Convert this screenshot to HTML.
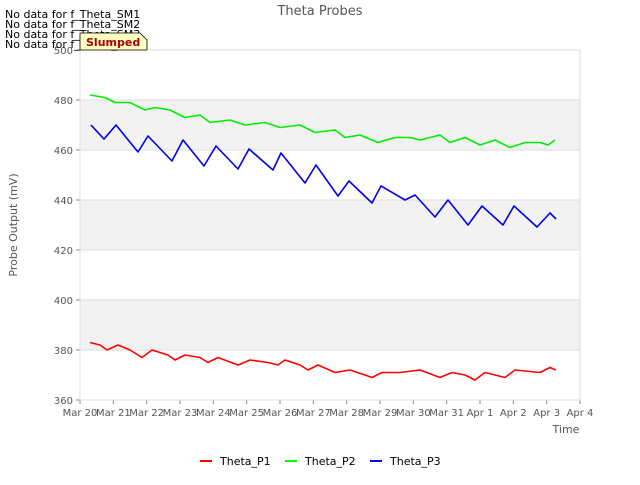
<!DOCTYPE html>
<html><head><meta charset="utf-8"><style>
body{margin:0;background:#fff;font-family:"Liberation Sans","DejaVu Sans",sans-serif}
svg text{font-family:"DejaVu Sans","Liberation Sans",sans-serif}
</style></head><body>
<svg id="chart" width="640" height="480" viewBox="0 0 640 480" xmlns="http://www.w3.org/2000/svg">
<rect width="640" height="480" fill="#fff"/>
<g id="bands"></g>
<g id="grid"></g>
<g id="axes"></g>
<g id="series"></g>
<text x="320" y="15" text-anchor="middle" font-size="13" fill="#555">Theta Probes</text>
<text transform="translate(17,225) rotate(-90)" text-anchor="middle" font-size="11" fill="#555">Probe Output (mV)</text>
<text x="566" y="433" text-anchor="middle" font-size="11" fill="#555">Time</text>
<g font-size="11" fill="#000">
<text x="5" y="18">No data for f_Theta_SM1</text>
<text x="5" y="28">No data for f_Theta_SM2</text>
<text x="5" y="38">No data for f_Theta_SM3</text>
<text x="5" y="48">No data for f_Theta_SM4</text>
</g>
<g>
<path d="M80,33 L140,33 L147,40 L147,50 L80,50 Z" fill="#ffffc0" stroke="#000" stroke-width="0.8"/>
<text x="86" y="46" font-size="11" font-weight="bold" fill="#a00">Slumped</text>
</g>
<g font-size="11" fill="#000">
<line x1="200" y1="461" x2="212" y2="461" stroke="#f00" stroke-width="2"/><text x="220" y="465">Theta_P1</text>
<line x1="285" y1="461" x2="297" y2="461" stroke="#0f0" stroke-width="2"/><text x="305" y="465">Theta_P2</text>
<line x1="370" y1="461" x2="382" y2="461" stroke="#00f" stroke-width="2"/><text x="390" y="465">Theta_P3</text>
</g>
</svg>
<script>
const xTickLabels=["Mar 20","Mar 21","Mar 22","Mar 23","Mar 24","Mar 25","Mar 26","Mar 27","Mar 28","Mar 29","Mar 30","Mar 31","Apr 1","Apr 2","Apr 3","Apr 4"];
const yTicks=[360,380,400,420,440,460,480,500];
const p1Days=[.3,.6,.81,1.14,1.5,1.86,2.16,2.64,2.85,3.15,3.6,3.84,4.14,4.74,5.1,5.64,5.94,6.15,6.6,6.84,7.14,7.65,8.1,8.55,8.76,9.06,9.6,10.2,10.8,11.16,11.55,11.85,12.15,12.75,13.05,13.8,14.1,14.28];
const p1Vals=[383,382,380,382,380,377,380,378,376,378,377,375,377,374,376,375,374,376,374,372,374,371,372,370,369,371,371,372,369,371,370,368,371,369,372,371,373,372];
const p2Days=[.3,.75,1.05,1.5,1.95,2.25,2.7,3.15,3.6,3.9,4.5,4.95,5.55,6,6.6,7.05,7.65,7.95,8.4,8.94,9.45,9.9,10.2,10.8,11.1,11.55,12,12.45,12.9,13.35,13.8,14.04,14.25];
const p2Vals=[482,481,479,479,476,477,476,473,474,471,472,470,471,469,470,467,468,465,466,463,465,465,464,466,463,465,462,464,461,463,463,462,464];
const p3Days=[.33,.72,1.08,1.74,2.04,2.76,3.09,3.72,4.08,4.74,5.07,5.79,6.03,6.75,7.08,7.74,8.07,8.76,9.03,9.75,10.05,10.65,11.04,11.64,12.06,12.69,13.02,13.71,14.1,14.28];
const p3Vals=[470,464.4,470,459.2,465.6,455.6,464,453.6,461.6,452.4,460.4,452,458.8,446.8,454,441.6,447.6,438.8,445.6,440,442,433.2,440,430,437.6,430,437.6,429.2,434.8,432.4];
const X0=80,X1=580,Y0=400,Y1=50,D0=0,D1=15,V0=360,V1=500;
const xs=d=>X0+(d-D0)/(D1-D0)*(X1-X0);
const ys=v=>Y0-(v-V0)/(V1-V0)*(Y0-Y1);
const NS="http://www.w3.org/2000/svg";
function mk(tag,attrs,parent){const e=document.createElementNS(NS,tag);for(const k in attrs)e.setAttribute(k,attrs[k]);document.getElementById(parent).appendChild(e);return e;}
const bandsG="bands";
for(let i=0;i<yTicks.length-1;i++){
  const e=mk("rect",{x:X0,y:ys(yTicks[i+1]),width:X1-X0,height:ys(yTicks[i])-ys(yTicks[i+1]),fill:(i%2===1)?"#f2f2f2":"#fff"},bandsG);
  
  
}
yTicks.forEach(v=>{
  const l=mk("line",{x1:X0,x2:X1,y1:ys(v),y2:ys(v),stroke:"#ddd","stroke-width":1},"grid");
  
  
  const t=mk("line",{x1:X0-4,x2:X0,y1:ys(v),y2:ys(v),stroke:"#888"},"axes");
  
  
  const tx=mk("text",{x:X0-7,y:ys(v)+4,"text-anchor":"end","font-size":10,fill:"#555"},"axes");
  tx.textContent=v;
  
  
});
xTickLabels.forEach((lab,i)=>{
  const t=mk("line",{x1:xs(i),x2:xs(i),y1:Y0,y2:Y0+4,stroke:"#888"},"axes");
  
  
  const tx=mk("text",{x:xs(i),y:Y0+16,"text-anchor":"middle","font-size":10,fill:"#555"},"axes");
  tx.textContent=lab;
  
  
});
const b=mk("rect",{x:X0,y:Y1,width:X1-X0,height:Y0-Y1,fill:"none",stroke:"#ddd"},"axes");


[[p1Days,p1Vals,"#ff0000","series-theta-p1"],[p2Days,p2Vals,"#00ee00","series-theta-p2"],[p3Days,p3Vals,"#0000ee","series-theta-p3"]].forEach(s=>{
  const pts=s[0].map((d,i)=>xs(d).toFixed(1)+","+ys(s[1][i]).toFixed(1)).join(" ");
  const pl=mk("polyline",{points:pts,fill:"none",stroke:s[2],"stroke-width":1.6,"stroke-linejoin":"round"},"series");
  
  
});
</script>
</body></html>
